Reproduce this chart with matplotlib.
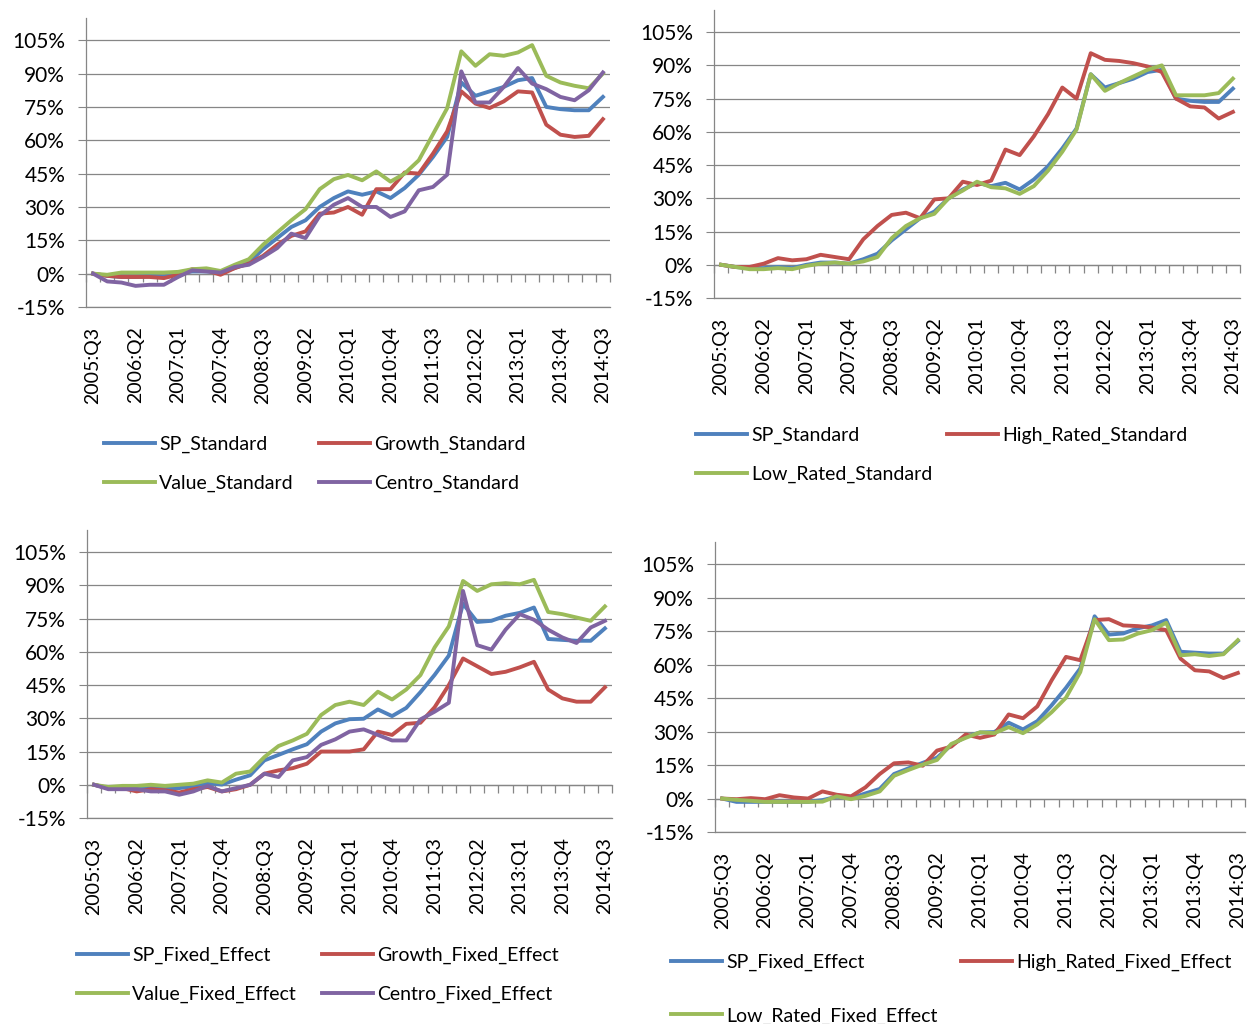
import numpy as np
import matplotlib
matplotlib.use("Agg")
import matplotlib.pyplot as plt
from matplotlib.ticker import FuncFormatter

plt.rcParams["font.family"] = ["Lato", "DejaVu Sans"]

# ------------------------------------------------------------
# Data (cumulative % index, 2005:Q3 .. 2014:Q3, quarterly)
# ------------------------------------------------------------
quarters = [f"{y}:Q{q}" for y in range(2005, 2015) for q in range(1, 5)][2:39]

sp_standard = [0, -1, -1.5, -1.5, -1, -1.5, 0, 1, 1, 0.5, 2.5, 5, 11, 16, 21, 24, 30, 34,
               37, 35.5, 37, 34, 38.5, 44.5, 52.5, 61.5, 86, 80, 82, 84, 87, 88, 75, 74,
               73.5, 73.5, 79.5]
growth_standard = [0, -1, -1.5, -1.5, -1.5, -2, -0.5, 2, 1.5, -0.5, 2.5, 4.5, 8, 13, 17, 19,
                   27, 27.5, 30, 26.5, 38, 38, 45.5, 45, 54, 64, 82, 76.5, 74.5, 77.5, 82,
                   81.5, 67, 62.5, 61.5, 62, 69.5]
value_standard = [0, -0.5, 0.5, 0.5, 0.5, 0.5, 0.8, 2, 2.4, 1.2, 4, 6.5, 13, 18.5, 24, 29,
                  38, 42.5, 44.4, 42, 46, 41.4, 45, 51, 62.7, 74.4, 100, 93.5, 98.7, 98,
                  99.5, 102.8, 89, 86, 84.5, 83.4, 90]
centro_standard = [0, -3.5, -4, -5.5, -5, -5, -1.5, 1.5, 1, 0.5, 3, 4, 7.5, 11.5, 18, 16,
                   26, 31, 34, 30, 30, 25.5, 28, 37.5, 39, 44.5, 91, 77, 77, 84, 92.5, 85.5,
                   83, 79.5, 78, 82.5, 90.5]
high_rated_standard = [0, -1, -1, 0.5, 3, 2, 2.5, 4.5, 3.5, 2.5, 11.5, 17.5, 22.5, 23.5, 21,
                       29.5, 30, 37.5, 36, 38, 52, 49.5, 58, 68, 80, 75, 95.5, 92.5, 92, 91,
                       89.5, 87, 75, 71.5, 71, 66, 69]
low_rated_standard = [0, -1, -2, -2, -1.5, -2, -0.5, 0.5, 1, 0.5, 1.5, 3.5, 12, 17.5, 21,
                      23, 30, 33.5, 37.5, 35, 34.5, 32, 35.5, 42.5, 51, 61, 86, 78.5, 82,
                      85, 88, 90, 76.5, 76.5, 76.5, 77.5, 84]

sp_fixed = [0, -1.5, -1.5, -1.5, -1.5, -1.5, -1.5, -0.7, 0.8, 0.1, 2.3, 4.3, 11, 13.5, 16,
            18.3, 24, 27.7, 29.6, 29.8, 34, 31, 34.7, 41.8, 49.6, 58.3, 81.7, 73.5, 74,
            76.3, 77.6, 80, 65.8, 65.4, 65, 65, 70.6]
growth_fixed = [0, -1.5, -1.5, -3, -2, -2.5, -3.5, -2, -1, -3, -2, 0, 5, 6.5, 7.5, 9.5, 15,
                15, 15, 16, 24, 22.5, 27.5, 28, 35, 45, 57, 53.5, 50, 51, 53, 55.5, 43, 39,
                37.5, 37.5, 44]
value_fixed = [0, -1, -0.5, -0.5, 0, -0.5, 0, 0.5, 2, 1, 5, 6, 12.5, 17.5, 20, 23, 31.5, 36,
               37.5, 36, 42, 38.5, 43, 49.5, 62, 71.5, 92, 87.5, 90.5, 91, 90.5, 92.5, 78,
               77, 75.5, 74, 80.5]
centro_fixed = [0, -2, -2, -2, -3, -3, -4.5, -3, -0.5, -3, -1.5, 0, 5, 3.5, 11, 12.5, 18,
                20.5, 24, 25, 22.5, 20, 20, 29.5, 33, 37, 87.5, 63, 61, 70, 77, 74.5, 70,
                66.5, 64, 71, 74]
high_rated_fixed = [0, -0.3, 0.2, -0.3, 1.5, 0.5, 0, 3.2, 1.7, 1, 5, 11, 15.8, 16.2, 14.7,
                    21.5, 23.3, 28.7, 27.2, 28.7, 37.7, 36, 41.3, 53, 63.5, 62, 80, 80.4,
                    77.6, 77.3, 76.7, 75.5, 62.7, 57.5, 57, 54, 56.3]
low_rated_fixed = [0, -0.6, -1, -1.5, -1.5, -1.5, -1.5, -1.4, 1, -0.3, 1.2, 3.2, 10.2, 12.8,
                   15.2, 17.3, 24.5, 27.2, 29.7, 29.3, 32, 29.3, 33.2, 38.7, 45.2, 56.7,
                   80.4, 71, 71.3, 73.9, 75.5, 78.8, 64.2, 64.7, 63.9, 64.7, 71]

yticks = [-15, 0, 15, 30, 45, 60, 75, 90, 105]

BLUE, RED, GREEN, PURPLE = "#4F81BD", "#C0504D", "#9BBB59", "#8064A2"
GRID = "#868686"

W, H = 1248, 1024
fig = plt.figure(figsize=(W / 100, H / 100), dpi=100)


def make_axes(left, right, top, bottom):
    # pixel box -> figure fraction
    return fig.add_axes([left / W, 1 - bottom / H, (right - left) / W, (bottom - top) / H])


def style_axes(ax):
    x = np.arange(len(quarters))
    ax.set_xlim(-0.5, len(quarters) - 0.5)
    ax.set_ylim(-15, 115)
    ax.set_yticks(yticks)
    ax.yaxis.set_major_formatter(FuncFormatter(lambda v, p: f"{v:.0f}%"))
    ax.grid(axis="y", color=GRID, linewidth=0.9)
    ax.set_axisbelow(True)
    for s in ["top", "right"]:
        ax.spines[s].set_visible(False)
    ax.spines["left"].set_color(GRID)
    ax.spines["bottom"].set_color(GRID)
    ax.spines["left"].set_linewidth(0.9)
    ax.spines["bottom"].set_linewidth(0.9)
    ax.tick_params(axis="y", direction="out", length=6, color=GRID, labelsize=15, pad=9)
    ax.set_xticks(x[::3])
    ax.set_xticklabels(quarters[::3], rotation=90, fontsize=14)
    ax.tick_params(axis="x", length=0, pad=14)
    # category axis crossing at 0% with tick marks between categories
    frac0 = (0 - (-15)) / (115 - (-15))
    sec = ax.secondary_xaxis(frac0)
    sec.xaxis.set_ticks_position("bottom")
    boundaries = np.arange(-0.5, len(quarters), 1.0)
    sec.set_xticks(boundaries)
    sec.set_xticklabels([""] * len(boundaries))
    sec.tick_params(direction="out", length=6, color=GRID, width=0.9,
                    labelbottom=False, labeltop=False)
    sec.spines["bottom"].set_color(GRID)
    sec.spines["bottom"].set_linewidth(0.9)
    for s in ["top", "left", "right"]:
        sec.spines[s].set_visible(False)


def add_columns(ax, columns, xs, y_top, labelspacing):
    for i, (handles, x) in enumerate(zip(columns, xs)):
        leg = ax.legend(handles=handles, loc="upper left",
                        bbox_to_anchor=(x / W, 1 - y_top / H),
                        bbox_transform=fig.transFigure, frameon=False,
                        borderpad=0, borderaxespad=0, handlelength=2.6,
                        handletextpad=0.25, labelspacing=labelspacing, fontsize=14)
        if i < len(columns) - 1:
            ax.add_artist(leg)


x = np.arange(len(quarters))
LW = 2.8

# ---------------- panel 1 ----------------
ax1 = make_axes(86, 610, 18, 307)
style_axes(ax1)
a, = ax1.plot(x, sp_standard, color=BLUE, lw=LW, label="SP_Standard")
b, = ax1.plot(x, growth_standard, color=RED, lw=LW, label="Growth_Standard")
c, = ax1.plot(x, value_standard, color=GREEN, lw=LW, label="Value_Standard")
d, = ax1.plot(x, centro_standard, color=PURPLE, lw=LW, label="Centro_Standard")
add_columns(ax1, [[a, c], [b, d]], [104, 319], 436, 1.1)

# ---------------- panel 2 ----------------
ax2 = make_axes(714, 1240, 10, 298)
style_axes(ax2)
a, = ax2.plot(x, sp_standard, color=BLUE, lw=LW, label="SP_Standard")
b, = ax2.plot(x, high_rated_standard, color=RED, lw=LW, label="High_Rated_Standard")
c, = ax2.plot(x, low_rated_standard, color=GREEN, lw=LW, label="Low_Rated_Standard")
add_columns(ax2, [[a, c], [b]], [696, 947], 427, 1.1)

# ---------------- panel 3 ----------------
ax3 = make_axes(87, 612, 530, 818)
style_axes(ax3)
a, = ax3.plot(x, sp_fixed, color=BLUE, lw=LW, label="SP_Fixed_Effect")
b, = ax3.plot(x, growth_fixed, color=RED, lw=LW, label="Growth_Fixed_Effect")
c, = ax3.plot(x, value_fixed, color=GREEN, lw=LW, label="Value_Fixed_Effect")
d, = ax3.plot(x, centro_fixed, color=PURPLE, lw=LW, label="Centro_Fixed_Effect")
add_columns(ax3, [[a, c], [b, d]], [77, 322], 947, 1.1)

# ---------------- panel 4 ----------------
ax4 = make_axes(715, 1245, 542, 832)
style_axes(ax4)
a, = ax4.plot(x, sp_fixed, color=BLUE, lw=LW, label="SP_Fixed_Effect")
b, = ax4.plot(x, high_rated_fixed, color=RED, lw=LW, label="High_Rated_Fixed_Effect")
c, = ax4.plot(x, low_rated_fixed, color=GREEN, lw=LW, label="Low_Rated_Fixed_Effect")
add_columns(ax4, [[a, c], [b]], [671, 961], 954, 1.85)

fig.savefig("out.png", dpi=100, facecolor="white")
